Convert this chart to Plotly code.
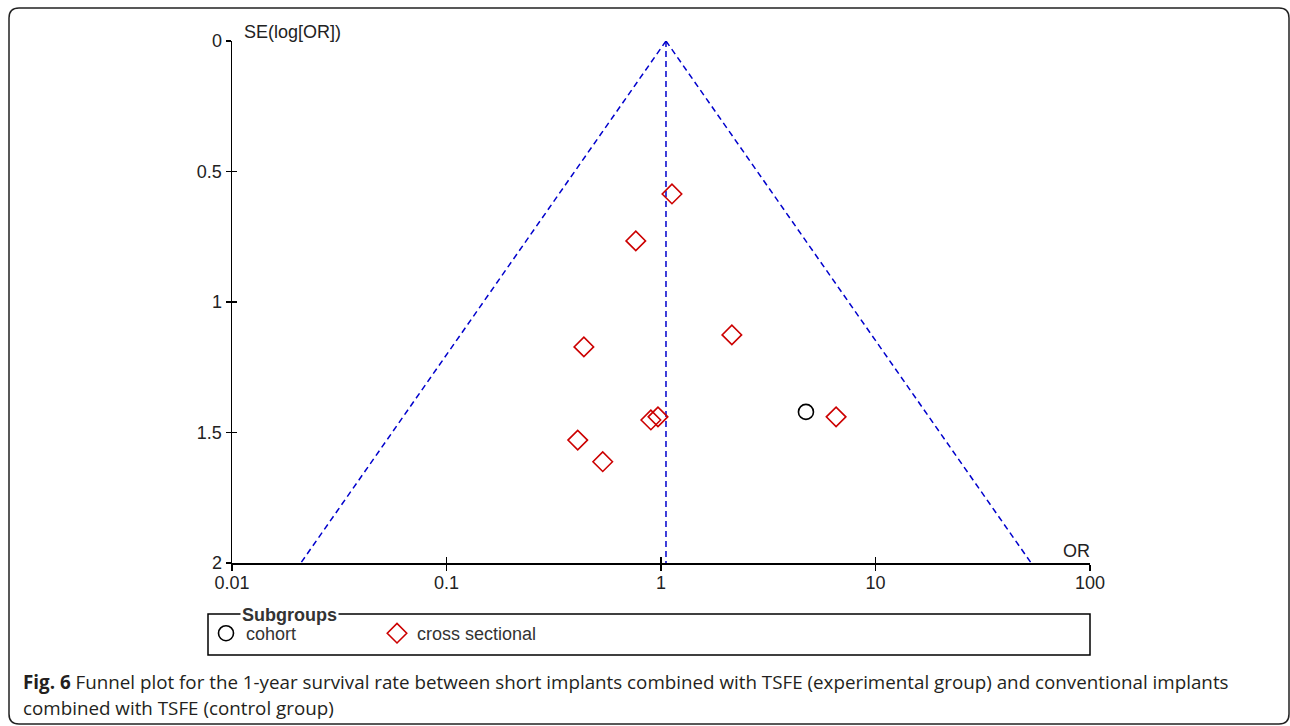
import numpy as np
import plotly.graph_objects as go

# ---- data ----
cross_or = [1.125, 0.763, 2.14, 0.437, 0.968, 0.897, 0.409, 0.535, 6.55]
cross_se = [0.586, 0.766, 1.126, 1.172, 1.44, 1.452, 1.529, 1.612, 1.44]
cohort_or = [4.74]
cohort_se = [1.421]
pooled_or = 1.055
se_limits = [0, 2]
x_tickvals = [0.01, 0.1, 1, 10, 100]
x_ticktext = ["0.01", "0.1", "1", "10", "100"]
y_tickvals = [0, 0.5, 1, 1.5, 2]
y_ticktext = ["0", "0.5", "1", "1.5", "2"]

W, H = 1290, 726
def PX(px):
    return px / W
def PY(py):
    return 1 - py / H

FONT = "Liberation Sans, Arial, sans-serif"
BLUE = "#0000cc"
RED = "#cc0000"

fig = go.Figure()

# funnel (pseudo 95% limits)
se_line = np.array(se_limits, dtype=float)
lo = np.exp(np.log(pooled_or) - 1.96 * se_line)
hi = np.exp(np.log(pooled_or) + 1.96 * se_line)
dash = dict(color=BLUE, width=1.5, dash="6px,4px")
fig.add_trace(go.Scatter(x=list(lo), y=list(se_line), mode="lines", line=dash,
                         showlegend=False, hoverinfo="skip"))
fig.add_trace(go.Scatter(x=list(hi), y=list(se_line), mode="lines", line=dash,
                         showlegend=False, hoverinfo="skip"))
fig.add_trace(go.Scatter(x=[pooled_or, pooled_or], y=se_limits, mode="lines", line=dash,
                         showlegend=False, hoverinfo="skip"))

fig.add_trace(go.Scatter(x=cohort_or, y=cohort_se, mode="markers", name="cohort",
                         marker=dict(symbol="circle-open", size=15, color="black",
                                     line=dict(width=1.6, color="black"))))
fig.add_trace(go.Scatter(x=cross_or, y=cross_se, mode="markers", name="cross sectional",
                         marker=dict(symbol="diamond-open", size=15, color=RED,
                                     line=dict(width=1.6, color=RED))))

# overlay axes for inner half of crossing ticks
fig.add_trace(go.Scatter(x=[pooled_or], y=[0], xaxis="x2", yaxis="y2", mode="markers",
                         marker=dict(opacity=0), showlegend=False, hoverinfo="skip"))

dom_x = [PX(232), PX(1090)]
dom_y = [PY(563), PY(41)]
axfont = dict(family=FONT, size=18, color="#222222")

fig.update_layout(
    template="none",
    width=W, height=H,
    margin=dict(l=0, r=0, t=0, b=0, pad=0, autoexpand=False),
    paper_bgcolor="white", plot_bgcolor="white",
    xaxis=dict(type="log", range=[-2, 2], domain=dom_x, anchor="y", automargin=False,
               tickvals=x_tickvals, ticktext=x_ticktext, tickfont=axfont,
               ticklabelstandoff=-3,
               showline=True, linecolor="black", linewidth=1.5,
               ticks="outside", ticklen=6, tickwidth=1.5, tickcolor="black",
               showgrid=False, zeroline=False),
    yaxis=dict(range=[2, 0], domain=dom_y, anchor="x", automargin=False,
               tickvals=y_tickvals, ticktext=y_ticktext, tickfont=axfont,
               showline=True, linecolor="black", linewidth=1.5,
               ticks="outside", ticklen=5, tickwidth=1.5, tickcolor="black",
               showgrid=False, zeroline=False),
    xaxis2=dict(type="log", range=[-2, 2], domain=dom_x, anchor="y2", overlaying="x",
                automargin=False,
                tickvals=x_tickvals, showticklabels=False, showline=False,
                ticks="inside", ticklen=6, tickwidth=1.5, tickcolor="black",
                showgrid=False, zeroline=False),
    yaxis2=dict(range=[2, 0], domain=dom_y, anchor="x2", overlaying="y",
                automargin=False,
                tickvals=y_tickvals, showticklabels=False, showline=False,
                ticks="inside", ticklen=5, tickwidth=1.5, tickcolor="black",
                showgrid=False, zeroline=False),
    legend=dict(orientation="h", x=PX(206), y=PY(615), xanchor="left", yanchor="top",
                bgcolor="rgba(0,0,0,0)", borderwidth=0, entrywidth=126,
                font=dict(family=FONT, size=18, color="#333333"),
                itemclick=False, itemdoubleclick=False),
    showlegend=True,
)

# axis titles
fig.add_annotation(x=PX(242), y=PY(32), xref="paper", yref="paper", text="SE(log[OR])",
                   showarrow=False, xanchor="left", yanchor="middle",
                   font=dict(family=FONT, size=18, color="#222222"))
fig.add_annotation(x=PX(1092), y=PY(551), xref="paper", yref="paper", text="OR",
                   showarrow=False, xanchor="right", yanchor="middle",
                   font=dict(family=FONT, size=18, color="#222222"))

# legend box with title breaking the border
fig.add_shape(type="rect", xref="paper", yref="paper",
              x0=PX(208), x1=PX(1090), y0=PY(655), y1=PY(614),
              line=dict(color="black", width=1.5), fillcolor="rgba(0,0,0,0)")
fig.add_annotation(x=PX(240), y=PY(615), xref="paper", yref="paper", text="<b>Subgroups</b>",
                   showarrow=False, xanchor="left", yanchor="middle", bgcolor="white",
                   borderpad=1,
                   font=dict(family=FONT, size=18, color="#333333"))

# outer frame with rounded corners
x0, y0, x1, y1, r = 9, 8, 1289, 724, 10
path = (f"M {PX(x0)},{PY(y0 + r)} Q {PX(x0)},{PY(y0)} {PX(x0 + r)},{PY(y0)} "
        f"L {PX(x1 - r)},{PY(y0)} Q {PX(x1)},{PY(y0)} {PX(x1)},{PY(y0 + r)} "
        f"L {PX(x1)},{PY(y1 - r)} Q {PX(x1)},{PY(y1)} {PX(x1 - r)},{PY(y1)} "
        f"L {PX(x0 + r)},{PY(y1)} Q {PX(x0)},{PY(y1)} {PX(x0)},{PY(y1 - r)} Z")
fig.add_shape(type="path", xref="paper", yref="paper", path=path,
              line=dict(color="#222222", width=1.5), fillcolor="rgba(0,0,0,0)", layer="below")

# caption
CAP = "Open Sans, Noto Sans, sans-serif"
fig.add_annotation(x=PX(21), y=PY(682), xref="paper", yref="paper",
                   text="<b>Fig. 6</b> Funnel plot for the 1-year survival rate between short implants combined with TSFE (experimental group) and conventional implants",
                   showarrow=False, xanchor="left", yanchor="middle",
                   font=dict(family=CAP, size=18.8, color="#231f20"))
fig.add_annotation(x=PX(21), y=PY(708), xref="paper", yref="paper",
                   text="combined with TSFE (control group)",
                   showarrow=False, xanchor="left", yanchor="middle",
                   font=dict(family=CAP, size=18.8, color="#231f20"))

fig.write_html("out.html", config={"displayModeBar": False, "staticPlot": True},
               post_script="document.body.style.margin='0';document.body.style.padding='0';")
